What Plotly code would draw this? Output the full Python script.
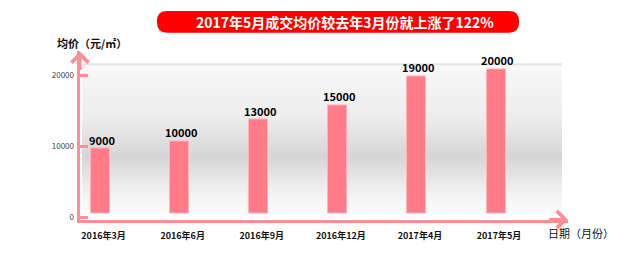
import plotly.graph_objects as go

# ---- data ----
categories = ["2016年3月", "2016年6月", "2016年9月", "2016年12月", "2017年4月", "2017年5月"]
prices = [9000, 10000, 13000, 15000, 19000, 20000]
ytick_vals = [0, 10000, 20000]
ytick_text = ["0", "10000", "20000"]
title_text = "2017年5月成交均价较去年3月份就上涨了122%"
ylabel_text = "均价（元/㎡）"
xlabel_text = "日期（月份）"

W, H = 640, 279
FONT = "Noto Sans CJK SC"
PINK_AX = "#ff8c96"
PINK_BAR = "#ff7b87"


def X(px):
    return px / W


def Y(py):
    return 1 - py / H


fig = go.Figure()

fig.add_trace(go.Bar(
    x=categories, y=prices, yaxis="y",
    width=0.24,
    marker=dict(color=PINK_BAR, line=dict(color="#ffb3ba", width=1)),
    cliponaxis=False, showlegend=False, hoverinfo="skip",
))
# invisible anchor so the tick axis (y2) is drawn
fig.add_trace(go.Scatter(
    x=[categories[0]], y=[ytick_vals[0]], yaxis="y2", mode="markers",
    marker=dict(opacity=0), showlegend=False, hoverinfo="skip",
))

shapes = []
# background gradient bands
top, bot, x0, x1 = 65, 215, 82, 562
n = 75
def gray_at(f):
    stops = [(0.0, 248), (0.35, 237), (0.63, 213), (0.83, 238), (1.0, 252)]
    for (a, ca), (b, cb) in zip(stops[:-1], stops[1:]):
        if a <= f <= b:
            t = (f - a) / (b - a)
            return int(round(ca + (cb - ca) * t))
    return 250
for i in range(n):
    ya = top + (bot - top) * i / n
    yb = top + (bot - top) * (i + 1) / n + 0.6
    g = gray_at((i + 0.5) / n)
    shapes.append(dict(type="rect", xref="paper", yref="paper", layer="below",
                       x0=X(x0), x1=X(x1), y0=Y(yb), y1=Y(ya),
                       fillcolor=f"rgb({g},{g},{g})", line=dict(width=0)))
shapes.append(dict(type="line", xref="paper", yref="paper", layer="below",
                   x0=X(x0), x1=X(x1), y0=Y(top), y1=Y(top),
                   line=dict(color="#e4e4e4", width=2)))

# title rounded box
bx0, bx1, by0, by1, r = 157, 519, 11, 33, 10
pts = (f"M {X(bx0+r)},{Y(by0)} L {X(bx1-r)},{Y(by0)} Q {X(bx1)},{Y(by0)} {X(bx1)},{Y(by0+r)} "
       f"L {X(bx1)},{Y(by1-r)} Q {X(bx1)},{Y(by1)} {X(bx1-r)},{Y(by1)} "
       f"L {X(bx0+r)},{Y(by1)} Q {X(bx0)},{Y(by1)} {X(bx0)},{Y(by1-r)} "
       f"L {X(bx0)},{Y(by0+r)} Q {X(bx0)},{Y(by0)} {X(bx0+r)},{Y(by0)} Z")
shapes.append(dict(type="path", xref="paper", yref="paper", path=pts, layer="below",
                   fillcolor="#ff0000", line=dict(width=0)))

annotations = [
    dict(text=title_text, x=X(345), y=Y(22), xref="paper", yref="paper",
         xanchor="center", yanchor="middle",
         showarrow=False, font=dict(family=FONT, size=14, color="white", weight="bold")),
    dict(text=ylabel_text, x=X(92), y=Y(43), xref="paper", yref="paper",
         xanchor="center", yanchor="middle",
         showarrow=False, font=dict(family=FONT, size=11, color="#111", weight="bold")),
    dict(text=xlabel_text, x=X(581), y=Y(236), xref="paper", yref="paper",
         xanchor="center", yanchor="middle",
         showarrow=False, font=dict(family=FONT, size=11, color="#111")),
    # axis arrows
    dict(text="", x=X(80), y=Y(52), xref="paper", yref="paper", showarrow=True,
         ax=0, ay=20, arrowhead=4, arrowsize=1.1, arrowwidth=3, arrowcolor=PINK_AX, standoff=0),
    dict(text="", x=X(568), y=Y(222), xref="paper", yref="paper", showarrow=True,
         ax=-20, ay=0, arrowhead=4, arrowsize=1.1, arrowwidth=3, arrowcolor=PINK_AX, standoff=0),
]
# value labels above bars
for c, v in zip(categories, prices):
    annotations.append(dict(text=str(v), x=c, y=v, xref="x", yref="y",
                            xanchor="center", yanchor="bottom", yshift=-1, xshift=1,
                            showarrow=False,
                            font=dict(family=FONT, size=11, color="#000", weight="bold")))

dom_y = [Y(222), Y(52)]
vis_range = [(220 - 222) * 10000 / 72, (220 - 52) * 10000 / 72]
bar_range = [-(222 - 216) / 0.0073, (216 - 52) / 0.0073]

fig.update_layout(
    width=W, height=H, margin=dict(l=0, r=0, t=0, b=0),
    paper_bgcolor="white", plot_bgcolor="rgba(0,0,0,0)",
    shapes=shapes, annotations=annotations,
    xaxis=dict(domain=[X(80), X(568)], range=[-0.26, 5.91], type="category",
               showline=True, linecolor=PINK_AX, linewidth=3, showgrid=False, zeroline=False,
               ticks="", ticklabelshift=3, ticklabelstandoff=6,
               tickfont=dict(family=FONT, size=9, color="#111", weight="bold")),
    yaxis=dict(domain=dom_y, range=bar_range, showticklabels=False, ticks="",
               showline=True, linecolor=PINK_AX, linewidth=3, showgrid=False, zeroline=False),
    yaxis2=dict(domain=dom_y, range=vis_range, overlaying="y", anchor="x", side="left",
                tickvals=ytick_vals, ticktext=ytick_text,
                showline=False, showgrid=False, zeroline=False,
                ticks="inside", ticklen=8, tickwidth=3, tickcolor=PINK_AX,
                ticklabelstandoff=5,
                tickfont=dict(family=FONT, size=8, color="#444")),
    bargap=0,
)

fig.write_html("out.html")
